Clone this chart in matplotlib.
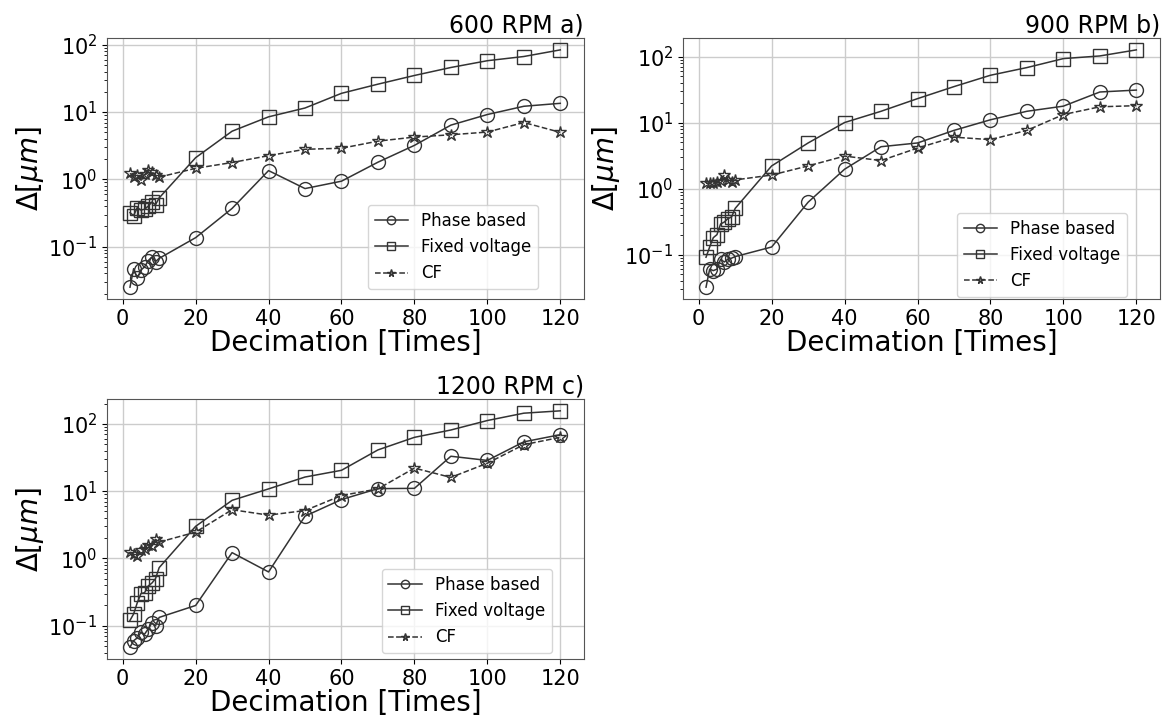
import matplotlib
matplotlib.use('Agg')
import matplotlib.pyplot as plt

# decimation factors
decim = [2, 3, 4, 5, 6, 7, 8, 9, 10, 20, 30, 40, 50, 60, 70, 80, 90, 100, 110, 120]

# 600 RPM
phase_600 = [0.025, 0.047, 0.034, 0.045, 0.05, 0.062, 0.07, 0.06, 0.067, 0.136,
             0.37, 1.35, 0.73, 0.94, 1.8, 3.2, 6.4, 9.2, 12.2, 13.5]
fixed_600 = [0.32, 0.29, 0.38, 0.35, 0.36, 0.40, 0.46, 0.42, 0.53, 2.1,
             5.2, 8.5, 11.5, 19, 26, 35, 46, 58, 67, 84]
cf_600 = [1.23, 1.1, 1.15, 0.98, 1.2, 1.4, 1.3, 1.15, 1.08, 1.46,
          1.78, 2.25, 2.8, 2.9, 3.7, 4.25, 4.6, 5.05, 7.0, 5.0]

# 900 RPM
phase_900 = [0.032, 0.06, 0.057, 0.06, 0.085, 0.077, 0.085, 0.088, 0.093, 0.13,
             0.62, 1.96, 4.3, 4.9, 7.6, 11, 14.8, 17.7, 29, 31]
fixed_900 = [0.091, 0.13, 0.18, 0.2, 0.29, 0.31, 0.35, 0.37, 0.5, 2.2,
             4.9, 10, 14.8, 23, 35, 52, 68, 93, 102, 126]
cf_900 = [1.2, 1.2, 1.2, 1.25, 1.3, 1.6, 1.35, 1.25, 1.35, 1.6,
          2.2, 3.1, 2.65, 4.1, 6.0, 5.5, 7.6, 13.2, 17.3, 18]

# 1200 RPM
phase_1200 = [0.048, 0.06, 0.066, 0.08, 0.075, 0.09, 0.11, 0.1, 0.133, 0.2,
              1.22, 0.63, 4.25, 7.5, 10.9, 11, 33, 28.6, 54, 69]
fixed_1200 = [0.12, 0.15, 0.22, 0.3, 0.31, 0.39, 0.43, 0.5, 0.73, 3.0,
              7.3, 10.8, 16.2, 20.4, 41, 63, 81, 112, 144, 156]
cf_1200 = [1.24, 1.15, 1.08, 1.33, 1.39, 1.57, 1.52, 1.92, 1.75, 2.46,
           5.3, 4.4, 5.15, 8.6, 10.8, 22, 16, 26, 49, 63]

titles = ['600 RPM a)', '900 RPM b)', '1200 RPM c)']
panels = [(phase_600, fixed_600, cf_600),
          (phase_900, fixed_900, cf_900),
          (phase_1200, fixed_1200, cf_1200)]
positions = [[0.0917, 0.5864, 0.4087, 0.361],
             [0.5853, 0.5864, 0.4087, 0.361],
             [0.0917, 0.0885, 0.4087, 0.3596]]
leg_anchor = [(0.904, 0.038), (0.931, 0.008), (0.933, 0.023)]

col = '#333333'
fig = plt.figure(figsize=(11.67, 7.23), dpi=100)

for i in range(3):
    ax = fig.add_axes(positions[i])
    ph, fx, cf = panels[i]
    ax.plot(decim, ph, '-o', color=col, lw=1.1, ms=10, mfc='none', mew=1.0, label='Phase based')
    ax.plot(decim, fx, '-s', color=col, lw=1.1, ms=10, mfc='none', mew=1.0, label='Fixed voltage')
    ax.plot(decim, cf, '--*', color=col, lw=1.1, ms=9, mfc='none', mew=1.0, label='CF')
    ax.set_yscale('log')
    ax.set_xlim(-4.3, 126.5)
    ax.set_xticks([0, 20, 40, 60, 80, 100, 120])
    ax.grid(True, color='#cccccc', lw=1)
    ax.tick_params(labelsize=15)
    ax.set_title(titles[i], loc='right', fontsize=17, pad=4)
    ax.set_xlabel('Decimation [Times]', fontsize=20, labelpad=0)
    ax.set_ylabel(r'$\Delta[\mu m]$', fontsize=20, labelpad=2)
    for s in ax.spines.values():
        s.set_color('#555555')
    ax.legend(loc='lower right', bbox_to_anchor=leg_anchor[i], borderaxespad=0,
              fontsize=12, markerscale=0.6)

plt.savefig('out.png', dpi=100)
